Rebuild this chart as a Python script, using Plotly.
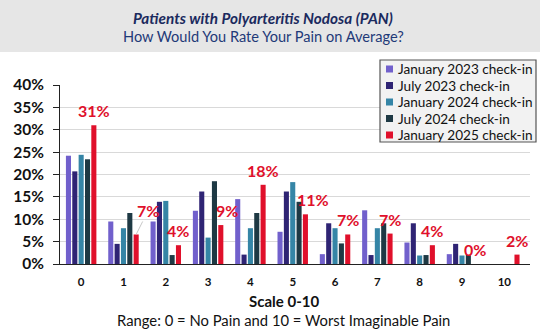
import plotly.graph_objects as go

categories = ["0", "1", "2", "3", "4", "5", "6", "7", "8", "9", "10"]
series_names = ["January 2023 check-in", "July 2023 check-in", "January 2024 check-in",
                "July 2024 check-in", "January 2025 check-in"]
jan2023 = [24.2, 9.5, 9.5, 11.9, 14.5, 7.2, 2.2, 12.0, 4.8, 2.2, 0]
jul2023 = [20.7, 4.5, 13.9, 16.2, 2.1, 16.2, 9.1, 2.0, 9.1, 4.5, 0]
jan2024 = [24.4, 8.0, 14.1, 5.9, 8.0, 18.3, 8.0, 8.0, 1.9, 1.9, 0]
jul2024 = [23.4, 11.4, 2.0, 18.5, 11.4, 13.9, 4.6, 9.1, 2.0, 2.0, 0]
jan2025 = [31.0, 6.6, 4.2, 8.7, 17.7, 11.1, 6.6, 6.8, 4.2, 0.0, 2.1]
jan2025_labels = ["31%", "7%", "4%", "9%", "18%", "11%", "7%", "7%", "4%", "0%", "2%"]
y_ticks = [0, 5, 10, 15, 20, 25, 30, 35, 40]

colors = ["#7160CC", "#2F2474", "#3585A6", "#1E3944", "#E0102B"]
all_series = [jan2023, jul2023, jan2024, jul2024, jan2025]

FONT = "Lato"
W, H = 540, 331
PLOT_LEFT, PLOT_RIGHT = 60, 530
PLOT_TOP, PLOT_BOTTOM = 85, 264
PH = PLOT_BOTTOM - PLOT_TOP
PW = PLOT_RIGHT - PLOT_LEFT


def py(pix):
    return (PLOT_BOTTOM - pix) / PH


def px(pix):
    return (pix - PLOT_LEFT) / PW


fig = go.Figure()
for name, vals, col in zip(series_names, all_series, colors):
    fig.add_trace(go.Bar(
        x=categories, y=[v / 100 for v in vals], name=name,
        marker=dict(color=col, line=dict(width=0)),
    ))

x_shifts = [0, 0, 0, 6, 0, 8, 0, 0, 0, 0, 0]
annotations = []
for i, (v, lab) in enumerate(zip(jan2025, jan2025_labels)):
    if i == 1:
        annotations.append(dict(
            x=i + 0.3, y=v / 100, xref="x", yref="y", text="<b>" + lab + "</b>",
            showarrow=True, arrowhead=0, arrowcolor="#C8C8C8", arrowwidth=1,
            ax=12, ay=-24, font=dict(family=FONT, size=16, color="#E0102B"),
            xanchor="center", yanchor="middle"))
    else:
        annotations.append(dict(
            x=i + 0.3, y=v / 100, xref="x", yref="y", text="<b>" + lab + "</b>",
            showarrow=False, xshift=x_shifts[i], yshift=3,
            font=dict(family=FONT, size=16, color="#E0102B"),
            xanchor="center", yanchor="bottom"))

annotations.append(dict(
    x=px(263), y=py(18), xref="paper", yref="paper", showarrow=False,
    text="<b><i>Patients with Polyarteritis Nodosa (PAN)</i></b>",
    font=dict(family=FONT, size=15.3, color="#1B2A5E"), xanchor="center", yanchor="middle"))
annotations.append(dict(
    x=px(263), y=py(36.5), xref="paper", yref="paper", showarrow=False,
    text="How Would You Rate Your Pain on Average?",
    font=dict(family=FONT, size=14.6, color="#1F3A78"), xanchor="center", yanchor="middle"))
annotations.append(dict(
    x=px(283.5), y=py(300.5), xref="paper", yref="paper", showarrow=False,
    text="<b>Scale 0-10</b>",
    font=dict(family=FONT, size=15, color="#111111"), xanchor="center", yanchor="middle"))
annotations.append(dict(
    x=px(283.5), y=py(320), xref="paper", yref="paper", showarrow=False,
    text="Range: 0 = No Pain and 10 = Worst Imaginable Pain",
    font=dict(family=FONT, size=14.8, color="#111111"), xanchor="center", yanchor="middle"))

shapes = [dict(type="rect", xref="paper", yref="paper",
               x0=px(-5), x1=px(545), y0=py(52), y1=py(-5),
               fillcolor="#E6E6E6", line=dict(width=0), layer="below")]

# custom compact legend
LEG_X0, LEG_X1, LEG_Y0, LEG_Y1 = 380, 536, 60, 142
shapes.append(dict(type="rect", xref="paper", yref="paper",
                   x0=px(LEG_X0), x1=px(LEG_X1), y0=py(LEG_Y1), y1=py(LEG_Y0),
                   fillcolor="#F2F2F2", line=dict(color="#555555", width=1.2)))
row_step = 16.5
for k, (name, col) in enumerate(zip(series_names, colors)):
    cy = 69 + k * row_step
    shapes.append(dict(type="rect", xref="paper", yref="paper",
                       x0=px(386), x1=px(393), y0=py(cy + 3.5), y1=py(cy - 3.5),
                       fillcolor=col, line=dict(width=0)))
    annotations.append(dict(
        x=px(396), y=py(cy), xref="paper", yref="paper", showarrow=False,
        text=name, font=dict(family=FONT, size=13.6, color="#111111"),
        xanchor="left", yanchor="middle"))

fig.update_layout(
    width=W, height=H,
    margin=dict(l=PLOT_LEFT, r=W - PLOT_RIGHT, t=PLOT_TOP, b=H - PLOT_BOTTOM),
    paper_bgcolor="white", plot_bgcolor="white",
    barmode="group", bargap=0.25, bargroupgap=0.2,
    font=dict(family=FONT, color="#111111"),
    annotations=annotations,
    shapes=shapes,
    showlegend=False,
)
fig.update_xaxes(
    type="category", showgrid=False, showline=True, linecolor="#222222", linewidth=1,
    ticks="", ticklabelstandoff=7,
    tickfont=dict(family=FONT, size=11.5, color="#111111", weight="bold"),
)
fig.update_yaxes(
    range=[0, 0.4], tickvals=[t / 100 for t in y_ticks],
    ticktext=[f"{t}%" for t in y_ticks],
    showgrid=True, gridcolor="#D9D9D9", gridwidth=1,
    showline=True, linecolor="#222222", linewidth=1,
    ticks="outside", ticklen=6, tickcolor="#222222", ticklabelstandoff=6,
    tickfont=dict(family=FONT, size=15.5, color="#111111", weight="bold"),
    zeroline=False,
)

fig.write_html("out.html")
